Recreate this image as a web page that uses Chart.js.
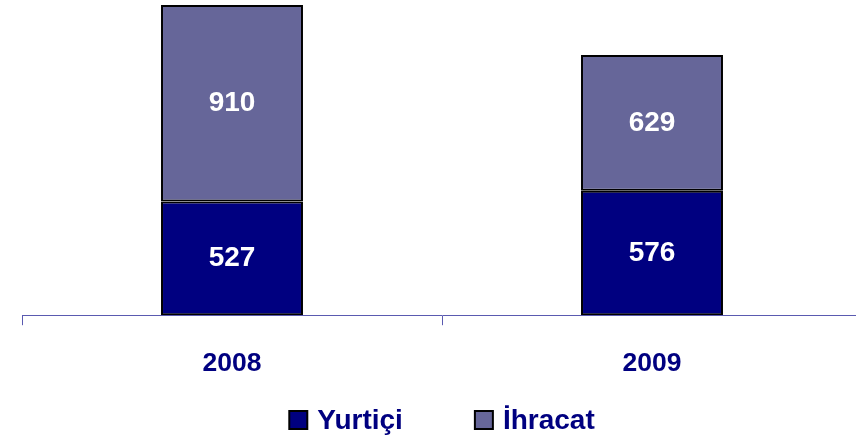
<!DOCTYPE html>
<html>
<head>
<meta charset="utf-8">
<script src="https://cdn.jsdelivr.net/npm/chart.js@4.4.0/dist/chart.umd.min.js"></script>
<style>
html,body{margin:0;padding:0;overflow:hidden;background:#fff;}
#wrap{position:relative;width:862px;height:441px;}
</style>
</head>
<body>
<div id="wrap"><canvas id="c"></canvas></div>
<script>
const categories = ["2008", "2009"];
const yurtici = [527, 576];
const ihracat = [910, 629];
const seriesNames = ["Yurtiçi", "İhracat"];

const FONT = "'Liberation Sans', Arial, sans-serif";
const NAVY = "#000080";

const valueLabels = {
  id: "valueLabels",
  afterDatasetsDraw(chart) {
    const ctx = chart.ctx;
    ctx.save();
    ctx.fillStyle = "#ffffff";
    ctx.font = "bold 28px " + FONT;
    ctx.textAlign = "center";
    ctx.textBaseline = "middle";
    chart.data.datasets.forEach((ds, di) => {
      const meta = chart.getDatasetMeta(di);
      meta.data.forEach((bar, i) => {
        const top = Math.min(bar.y, bar.base);
        const bot = Math.max(bar.y, bar.base);
        ctx.fillText(String(ds.data[i]), bar.x, (top + bot) / 2);
      });
    });
    ctx.restore();
  }
};

const bottomLegend = {
  id: "bottomLegend",
  afterDraw(chart) {
    const ctx = chart.ctx;
    const box = 18, gap = 10, spacing = 72;
    ctx.save();
    ctx.font = "bold 28px " + FONT;
    ctx.textBaseline = "middle";
    ctx.textAlign = "left";
    const items = chart.data.datasets.map(ds => ({ text: ds.label, color: ds.backgroundColor, w: ctx.measureText(ds.label).width }));
    let total = 0;
    items.forEach((it, i) => { total += box + gap + it.w + (i < items.length - 1 ? spacing : 0); });
    const cx = (chart.chartArea.left + chart.chartArea.right) / 2;
    let x = cx - total / 2;
    const cy = 420;
    items.forEach(it => {
      ctx.fillStyle = it.color;
      ctx.fillRect(x, cy - box / 2, box, box);
      ctx.lineWidth = 2;
      ctx.strokeStyle = "#000000";
      ctx.strokeRect(x, cy - box / 2, box, box);
      ctx.fillStyle = NAVY;
      ctx.fillText(it.text, x + box + gap, cy + 1);
      x += box + gap + it.w + spacing;
    });
    ctx.restore();
  }
};

new Chart(document.getElementById("c"), {
  type: "bar",
  data: {
    labels: categories,
    datasets: [
      { label: seriesNames[0], data: yurtici, backgroundColor: NAVY, borderColor: "#000000", borderWidth: 2, borderSkipped: false },
      { label: seriesNames[1], data: ihracat, backgroundColor: "#666699", borderColor: "#000000", borderWidth: 2, borderSkipped: false }
    ]
  },
  options: {
    responsive: true,
    maintainAspectRatio: false,
    animation: false,
    layout: { padding: { left: 22, right: 0, top: 0, bottom: 38 } },
    datasets: { bar: { categoryPercentage: 1.0, barPercentage: 0.338 } },
    scales: {
      x: {
        stacked: true,
        offset: true,
        grid: { display: true, offset: true, drawOnChartArea: false, drawTicks: true, tickLength: 10, color: "#5a5ab0", lineWidth: 1 },
        border: { display: true, color: "#5a5ab0", width: 1 },
        ticks: { color: NAVY, font: { family: FONT, size: 26.5, weight: "bold" }, padding: 23 }
      },
      y: {
        stacked: true,
        display: false,
        min: 0,
        max: 1460
      }
    },
    plugins: {
      legend: { display: false },
      tooltip: { enabled: false }
    }
  },
  plugins: [valueLabels, bottomLegend]
});
</script>
</body>
</html>
